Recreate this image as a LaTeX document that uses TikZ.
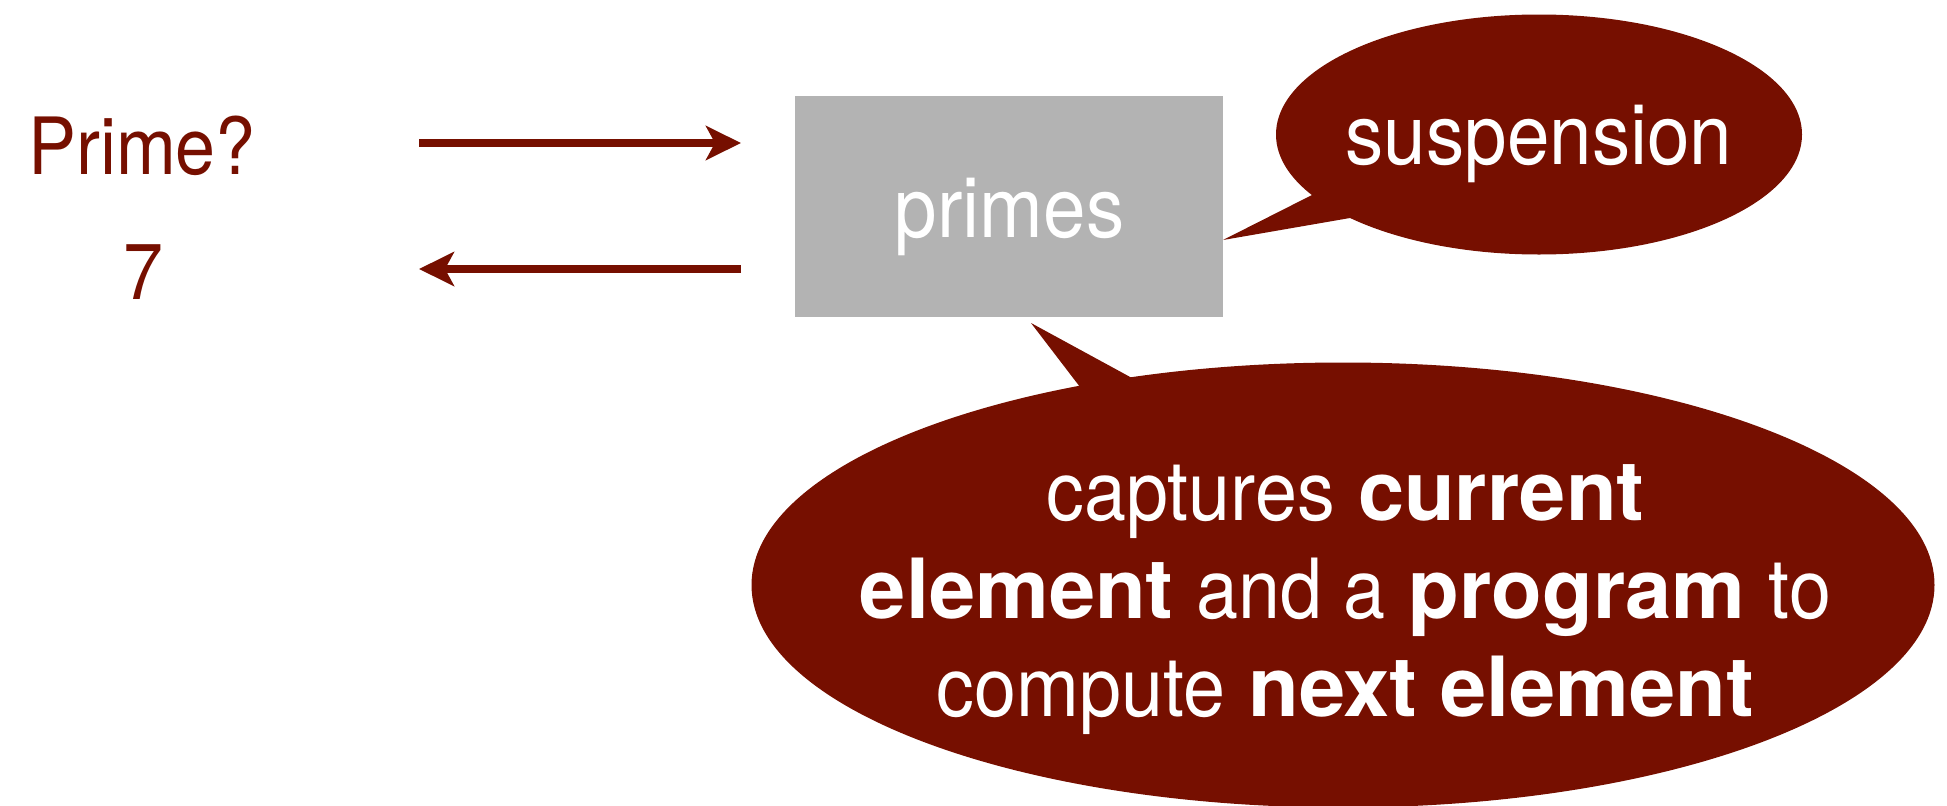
\documentclass[tikz,border=0pt]{standalone}
\usepackage{fontspec}
\usepackage{graphicx}
\setmainfont{TeX Gyre Heros}
\usetikzlibrary{arrows.meta}
\definecolor{callred}{HTML}{760F00}
\definecolor{boxgray}{HTML}{B3B3B3}
% narrow setting for the light-weight words
\newcommand{\nw}[1]{\scalebox{0.91}[1]{#1}}

\begin{document}
\begin{tikzpicture}[x=1pt,y=-1pt,
  lbl/.style={inner sep=0pt, anchor=base},
  redtext/.style={lbl, text=callred, font=\fontsize{79}{90}\selectfont},
  whitetext/.style={lbl, text=white, font=\fontsize{84}{96}\selectfont},
  bigtext/.style={lbl, text=white, font=\fontsize{83}{98}\selectfont},
  arr/.style={draw=callred, line width=8pt,
    -{Stealth[length=35pt,width=34pt,inset=9pt]}},
  bubble/.style={fill=callred}]
\useasboundingbox (0,0) rectangle (1947,806);

% question and answer
\node[redtext] (prime) at (142,174) {\nw{Prime?}};
\node[redtext] (seven) at (143,299) {\nw{7}};

% the stream box
\node[fill=boxgray, minimum width=427.6pt, minimum height=220.7pt,
      inner sep=0pt, anchor=north west] (box) at (795,96) {};
\node[whitetext] (primes) at (1009.6,237) {\nw{primes}};

% request and reply
\coordinate (reqstart) at (419,143);
\coordinate (reqend) at (741,143);
\coordinate (repstart) at (741,269);
\coordinate (repend) at (419,269);
\draw[arr] (reqstart) -- (reqend);
\draw[arr] (repstart) -- (repend);

% small callout
\coordinate (susptip) at (1223,240);
\fill[bubble] (1539,134.5) ellipse [x radius=263, y radius=120];
\fill[bubble] (1312,195) -- (susptip) -- (1350,218) -- (1400,190) -- cycle;
\node[whitetext] (susp) at (1539,164) {\nw{suspension}};

% large callout
\coordinate (captip) at (1031,323);
\fill[bubble] (1343,585) ellipse [x radius=591.5, y radius=222.5];
\fill[bubble] (1080,387) -- (captip) -- (1132,378) -- (1110,420) -- cycle;
\node[bigtext] (cap1) at (1345.5,520.7) {\nw{captures} \textbf{current}};
\node[bigtext] (cap2) at (1345.5,618) {\textbf{element} \nw{and a} \textbf{program} \nw{to}};
\node[bigtext] (cap3) at (1345.5,716.7) {\nw{compute} \textbf{next element}};
\end{tikzpicture}
\end{document}
